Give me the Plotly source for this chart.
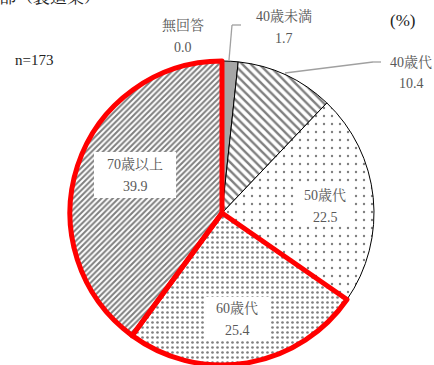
import plotly.graph_objects as go

# Age groups of respondents (%), n=173
labels = ["無回答", "40歳未満", "40歳代", "50歳代", "60歳代", "70歳以上"]
values = [0.0, 1.7, 10.4, 22.5, 25.4, 39.9]
highlight = ["60歳代", "70歳以上"]

W, H = 434, 365
FONT = "Liberation Serif, Noto Serif CJK JP, Noto Sans CJK JP, serif"
LABEL_GRAY = "#595959"


def px(x):
    return x / W


def py(y):
    return 1 - y / H


fill_colors = ["white", "#a6a6a6", "white", "white", "white", "white"]
pattern_shapes = ["", "", "\\", ".", ".", "/"]
pattern_sizes = [6, 6, 6, 8, 5, 4]
pattern_solid = [0.3, 0.3, 0.4, 0.07, 0.22, 0.5]

domain = dict(x=[px(70), px(374)], y=[py(365), py(61)])

fig = go.Figure()
fig.add_trace(go.Pie(
    labels=labels, values=values, sort=False, direction="clockwise",
    rotation=0, domain=domain, textinfo="none", hoverinfo="skip",
    showlegend=False,
    marker=dict(
        colors=fill_colors,
        line=dict(color="black", width=1),
        pattern=dict(shape=pattern_shapes, size=pattern_sizes,
                     solidity=pattern_solid, fgcolor="black",
                     bgcolor=fill_colors, fillmode="overlay"),
    ),
))

# Red outline for the 60s and over groups
fig.add_trace(go.Pie(
    labels=labels, values=values, sort=False, direction="clockwise",
    rotation=0, domain=domain, textinfo="none", hoverinfo="skip",
    showlegend=False,
    marker=dict(
        colors=["rgba(0,0,0,0)"] * len(labels),
        line=dict(color=["red" if l in highlight else "rgba(0,0,0,0)" for l in labels],
                  width=[5 if l in highlight else 0 for l in labels]),
    ),
))

shapes = []
annotations = []


def label(name, val, cx, cy, gap=22, box=None, size=14):
    if box is not None:
        bw, bh = box
        shapes.append(dict(type="rect", xref="paper", yref="paper",
                           x0=px(cx - bw / 2), x1=px(cx + bw / 2),
                           y0=py(cy + bh / 2), y1=py(cy - bh / 2),
                           fillcolor="white", line=dict(width=0), layer="above"))
    annotations.append(dict(text=name, x=px(cx), y=py(cy - gap / 2), xref="paper",
                            yref="paper", showarrow=False, xanchor="center",
                            yanchor="middle", font=dict(family=FONT, size=size, color=LABEL_GRAY)))
    annotations.append(dict(text=f"{val:.1f}", x=px(cx), y=py(cy + gap / 2), xref="paper",
                            yref="paper", showarrow=False, xanchor="center",
                            yanchor="middle", font=dict(family=FONT, size=size, color=LABEL_GRAY)))


v = dict(zip(labels, values))
label("無回答", v["無回答"], 183, 36)
label("40歳未満", v["40歳未満"], 284, 27)
label("40歳代", v["40歳代"], 411, 73)
label("50歳代", v["50歳代"], 325, 206, box=(56, 40))
label("60歳代", v["60歳代"], 237, 319, box=(64, 44))
label("70歳以上", v["70歳以上"], 135, 175, box=(82, 46))

# Leader lines
lead = dict(color="#a0a0a0", width=1.3)
for (x0, y0, x1, y1) in [(229, 60, 232, 25), (232, 25, 241, 25),
                         (285, 73, 373, 62), (373, 62, 381, 62)]:
    shapes.append(dict(type="line", xref="paper", yref="paper",
                       x0=px(x0), y0=py(y0), x1=px(x1), y1=py(y1),
                       line=lead, layer="above"))

annotations += [
    dict(text="n=173", x=px(34), y=py(60), xref="paper", yref="paper",
         showarrow=False, xanchor="center", yanchor="middle",
         font=dict(family=FONT, size=15, color="#222222")),
    dict(text="(%)", x=px(402), y=py(20), xref="paper", yref="paper",
         showarrow=False, xanchor="center", yanchor="middle",
         font=dict(family=FONT, size=17, color="#222222")),
    dict(text="部（製造業）", x=px(-3), y=py(-3), xref="paper", yref="paper",
         showarrow=False, xanchor="left", yanchor="middle",
         font=dict(family=FONT, size=17, color="#222222")),
]

fig.update_layout(
    width=W, height=H, margin=dict(l=0, r=0, t=0, b=0),
    paper_bgcolor="white", plot_bgcolor="white",
    shapes=shapes, annotations=annotations,
)

fig.write_html("out.html")
